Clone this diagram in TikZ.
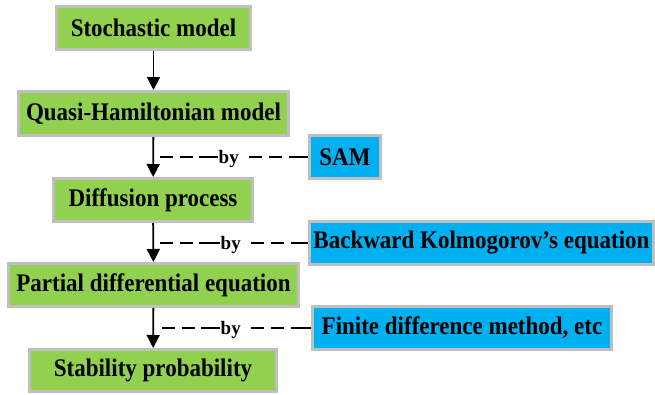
\documentclass[tikz,border=0pt]{standalone}
\usepackage{graphicx}
\usepackage{fontspec}
\setmainfont{Liberation Serif}
\usetikzlibrary{arrows.meta}
\definecolor{boxgreen}{HTML}{92D050}
\definecolor{boxblue}{HTML}{00B0F0}
\definecolor{rim}{HTML}{BFBFBF}
% box captions are set slightly taller than the plain font
\newcommand\tallcap[1]{\scalebox{1}[1.1]{#1}}

\begin{document}
\begin{tikzpicture}[x=1pt,y=-1pt,
  box/.style={draw=rim, line width=3pt, inner sep=0pt, minimum height=43pt,
    font=\fontsize{23}{25}\selectfont\bfseries},
  stage/.style={box, fill=boxgreen},
  method/.style={box, fill=boxblue},
  flow/.style={-{Triangle[length=13pt,width=13pt]}, line width=1.8pt},
  % dashes left of the label: the last one runs up to the label
  viain/.style={dash pattern=on 13pt off 6.5pt on 13pt off 6.5pt on 40pt off 1pt, line width=1.8pt},
  % dashes right of the label: gap first, the last one runs into the box
  viaout/.style={dash pattern=on 0pt off 10pt on 13pt off 7pt on 13pt off 7pt on 40pt off 1pt, line width=1.8pt},
  bylabel/.style={inner sep=0.5pt, anchor=base west, font=\fontsize{19}{20}\selectfont\bfseries}]
  \useasboundingbox (0,0) rectangle (655,394);

  % main chain of models
  \node[stage, minimum width=194pt] (s1) at (153.5,28) {\tallcap{Stochastic model}};
  \node[stage, minimum width=270pt, minimum height=44pt] (s2) at (153.5,113.5) {\tallcap{Quasi-Hamiltonian model}};
  \node[stage, minimum width=199pt] (s3) at (153,200) {\tallcap{Diffusion process}};
  \node[stage, minimum width=290pt] (s4) at (153.5,285) {\tallcap{Partial differential equation}};
  \node[stage, minimum width=247pt, minimum height=42pt] (s5) at (153,370.5) {\tallcap{Stability probability}};

  % methods used for each step
  \node[method, minimum width=71pt] (m1) at (345,157) {\tallcap{SAM}};
  \node[method, minimum width=344pt] (m2) at (481.5,243) {\tallcap{Backward Kolmogorov’s equation}};
  \node[method, minimum width=299pt] (m3) at (462,328) {\tallcap{Finite difference method, etc}};

  \draw[flow] (s1) -- (s2);
  \draw[flow] (s2) -- (s3);
  \draw[flow] (s3) -- (s4);
  \draw[flow] (s4) -- (s5);

  % dashed "by" links
  \coordinate (d1) at (160,157);
  \coordinate (d2) at (160,243);
  \coordinate (d3) at (162,328);
  \node[bylabel] (b1) at (218,163) {by};
  \node[bylabel] (b2) at (220,249) {by};
  \node[bylabel] (b3) at (220,334) {by};
  \draw[viain] (d1) -- (d1 -| b1.west);
  \draw[viaout] (b1.east |- m1) -- (m1);
  \draw[viain] (d2) -- (d2 -| b2.west);
  \draw[viaout] (b2.east |- m2) -- (m2);
  \draw[viain] (d3) -- (d3 -| b3.west);
  \draw[viaout] (b3.east |- m3) -- (m3);
\end{tikzpicture}
\end{document}
